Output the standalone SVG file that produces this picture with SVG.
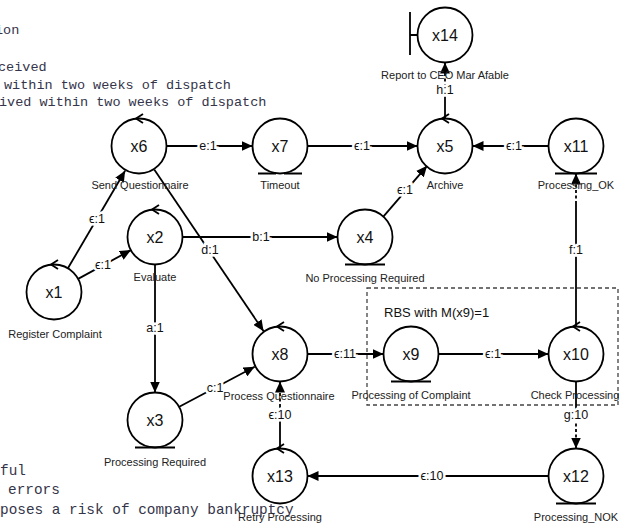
<svg xmlns="http://www.w3.org/2000/svg" width="621" height="525" viewBox="0 0 621 525">
  <style>
    .node circle { fill: #fff; stroke: #000; stroke-width: 1.8; }
    .deco { fill: none; stroke: #000; stroke-width: 1.8; }
    .name { font-family: "Liberation Sans", Arial, sans-serif; font-size: 16px; fill: #111; text-anchor: middle; dominant-baseline: central; }
    .cap { font-family: "Liberation Sans", Arial, sans-serif; font-size: 11px; fill: #222; text-anchor: middle; }
    .edge { fill: none; stroke: #000; stroke-width: 1.8; }
    .dash { stroke-dasharray: 3 2.5; }
    .elabel { font-family: "Liberation Sans", "DejaVu Sans", Arial, sans-serif; font-size: 12.5px; fill: #111; text-anchor: middle; dominant-baseline: central; stroke: #fff; stroke-width: 5; paint-order: stroke; }
    .code { font-family: "Liberation Mono", "DejaVu Sans Mono", monospace; fill: #34344a; }
    .box { fill: none; stroke: #444; stroke-width: 1.3; stroke-dasharray: 4 3; }
    .boxlabel { font-family: "Liberation Sans", Arial, sans-serif; font-size: 13px; fill: #111; }
  </style>
  <defs>
    <marker id="arrow" markerUnits="userSpaceOnUse" markerWidth="12" markerHeight="10" refX="11" refY="5" orient="auto">
      <path d="M0,0 L11,5 L0,10 Z" fill="#000"/>
    </marker>
  </defs>

  <rect width="621" height="525" fill="#fff"/>

  <!-- code listing behind the graph -->
  <g class="code" font-size="13.5">
    <text x="-5" y="34">ion</text>
    <text x="-2" y="71">ceived</text>
    <text x="4" y="89">within two weeks of dispatch</text>
    <text x="-1" y="106">ived within two weeks of dispatch</text>
  </g>
  <g class="code" font-size="14.4">
    <text x="0" y="474.5">ful</text>
    <text x="8" y="494">errors</text>
    <text x="0" y="514">poses a risk of company bankruptcy</text>
  </g>

  <!-- refined block -->
  <g id="rbs">
    <rect class="box" x="367" y="288" width="251" height="117"/>
    <text class="boxlabel" x="384" y="317">RBS with M(x9)=1</text>
  </g>

  <!-- connectors -->
  <g id="connectors">
    <path class="edge" d="M67.9,268.3 L125.1,170.7" marker-end="url(#arrow)"/>
    <path class="edge" d="M78.1,278.9 L130.9,250.1" marker-end="url(#arrow)"/>
    <path class="edge" d="M166.5,146 L252.5,146" marker-end="url(#arrow)"/>
    <path class="edge" d="M307.5,146 L417.5,146" marker-end="url(#arrow)"/>
    <path class="edge" d="M548.5,146 L472.5,146" marker-end="url(#arrow)"/>
    <path class="edge" d="M382.9,217.2 L427.1,165.8" marker-end="url(#arrow)"/>
    <path class="edge" d="M182.5,237 L337.5,237" marker-end="url(#arrow)"/>
    <path class="edge" d="M154.4,169.8 L263.6,331.2" marker-end="url(#arrow)"/>
    <path class="edge" d="M155,264.5 L155,392.5" marker-end="url(#arrow)"/>
    <path class="edge" d="M178.3,407.2 L254.7,366.8" marker-end="url(#arrow)"/>
    <path class="edge" d="M307.5,354 L383.5,354" marker-end="url(#arrow)"/>
    <path class="edge" d="M438.5,354 L548.5,354" marker-end="url(#arrow)"/>
    <!-- x10 up to x11 -->
    <path class="edge" d="M576,326.5 L576,204"/>
    <path class="edge dash" d="M576,204 L576,173.5" marker-end="url(#arrow)"/>
    <!-- x10 down to x12 -->
    <path class="edge" d="M576,381.5 L576,407"/>
    <path class="edge dash" d="M576,407 L576,438"/>
    <path class="edge" d="M576,438 L576,448.5" marker-end="url(#arrow)"/>
    <path class="edge" d="M548.5,476 L307.5,476" marker-end="url(#arrow)"/>
    <!-- x13 up to x8 -->
    <path class="edge" d="M280,448.5 L280,407"/>
    <path class="edge dash" d="M280,407 L280,381.5" marker-end="url(#arrow)"/>
    <!-- x5 up to x14 -->
    <path class="edge" d="M445,118.5 L445,98"/>
    <path class="edge dash" d="M445,98 L445,62.5" marker-end="url(#arrow)"/>

    <text class="elabel" x="97" y="219">ϵ:1</text>
    <text class="elabel" x="103" y="265">ϵ:1</text>
    <text class="elabel" x="208" y="146">e:1</text>
    <text class="elabel" x="362" y="146">ϵ:1</text>
    <text class="elabel" x="514" y="146">ϵ:1</text>
    <text class="elabel" x="405" y="190">ϵ:1</text>
    <text class="elabel" x="261" y="237">b:1</text>
    <text class="elabel" x="210" y="250">d:1</text>
    <text class="elabel" x="155" y="328">a:1</text>
    <text class="elabel" x="215" y="388">c:1</text>
    <text class="elabel" x="345" y="354">ϵ:11</text>
    <text class="elabel" x="493" y="354">ϵ:1</text>
    <text class="elabel" x="576" y="250">f:1</text>
    <text class="elabel" x="576" y="415">g:10</text>
    <text class="elabel" x="432" y="476">ϵ:10</text>
    <text class="elabel" x="280" y="415">ϵ:10</text>
    <text class="elabel" x="445" y="90">h:1</text>
  </g>

  <!-- nodes -->
  <g id="x1" class="node">
    <circle cx="54" cy="292" r="27.5"/>
    <path class="deco" d="M58,260 L51,264.5 L58,269"/>
    <text class="name" x="54" y="292">x1</text>
    <text class="cap" x="55" y="338">Register Complaint</text>
  </g>
  <g id="x2" class="node">
    <circle cx="155" cy="237" r="27.5"/>
    <path class="deco" d="M159,205 L152,209.5 L159,214"/>
    <text class="name" x="155" y="237">x2</text>
    <text class="cap" x="155" y="281">Evaluate</text>
  </g>
  <g id="x3" class="node">
    <circle cx="155" cy="420" r="27.5"/>
    <path class="deco" d="M135,447.5 L175,447.5"/>
    <text class="name" x="155" y="420">x3</text>
    <text class="cap" x="155" y="466">Processing Required</text>
  </g>
  <g id="x4" class="node">
    <circle cx="365" cy="237" r="27.5"/>
    <path class="deco" d="M345,264.5 L385,264.5"/>
    <text class="name" x="365" y="237">x4</text>
    <text class="cap" x="365" y="282">No Processing Required</text>
  </g>
  <g id="x5" class="node">
    <circle cx="445" cy="146" r="27.5"/>
    <path class="deco" d="M449,114 L442,118.5 L449,123"/>
    <text class="name" x="445" y="146">x5</text>
    <text class="cap" x="445" y="189">Archive</text>
  </g>
  <g id="x6" class="node">
    <circle cx="139" cy="146" r="27.5"/>
    <path class="deco" d="M143,114 L136,118.5 L143,123"/>
    <text class="name" x="139" y="146">x6</text>
    <text class="cap" x="140" y="189">Send Questionnaire</text>
  </g>
  <g id="x7" class="node">
    <circle cx="280" cy="146" r="27.5"/>
    <path class="deco" d="M258,173.5 L276,173.5 M284,173.5 L302,173.5"/>
    <text class="name" x="280" y="146">x7</text>
    <text class="cap" x="280" y="189">Timeout</text>
  </g>
  <g id="x8" class="node">
    <circle cx="280" cy="354" r="27.5"/>
    <path class="deco" d="M284,322 L277,326.5 L284,331"/>
    <text class="name" x="280" y="354">x8</text>
    <text class="cap" x="279" y="400">Process Questionnaire</text>
  </g>
  <g id="x9" class="node">
    <circle cx="411" cy="354" r="27.5"/>
    <path class="deco" d="M391,381.5 L431,381.5"/>
    <text class="name" x="411" y="354">x9</text>
    <text class="cap" x="411" y="399">Processing of Complaint</text>
  </g>
  <g id="x10" class="node">
    <circle cx="576" cy="354" r="27.5"/>
    <path class="deco" d="M580,322 L573,326.5 L580,331"/>
    <text class="name" x="576" y="354">x10</text>
    <text class="cap" x="575" y="399">Check Processing</text>
  </g>
  <g id="x11" class="node">
    <circle cx="576" cy="146" r="27.5"/>
    <path class="deco" d="M555,173.5 L597,173.5"/>
    <text class="name" x="576" y="146">x11</text>
    <text class="cap" x="576" y="189">Processing_OK</text>
  </g>
  <g id="x12" class="node">
    <circle cx="576" cy="476" r="27.5"/>
    <path class="deco" d="M556,503.5 L596,503.5"/>
    <text class="name" x="576" y="476">x12</text>
    <text class="cap" x="576" y="521">Processing_NOK</text>
  </g>
  <g id="x13" class="node">
    <circle cx="280" cy="476" r="27.5"/>
    <path class="deco" d="M284,444 L277,448.5 L284,453"/>
    <text class="name" x="280" y="476">x13</text>
    <text class="cap" x="280" y="521">Retry Processing</text>
  </g>
  <g id="x14" class="node">
    <circle cx="445" cy="35" r="27.5"/>
    <path class="deco" d="M410,12 L410,55 M410,35 L417.5,35"/>
    <text class="name" x="445" y="35">x14</text>
    <text class="cap" x="445" y="79">Report to CEO Mar Afable</text>
  </g>
</svg>
